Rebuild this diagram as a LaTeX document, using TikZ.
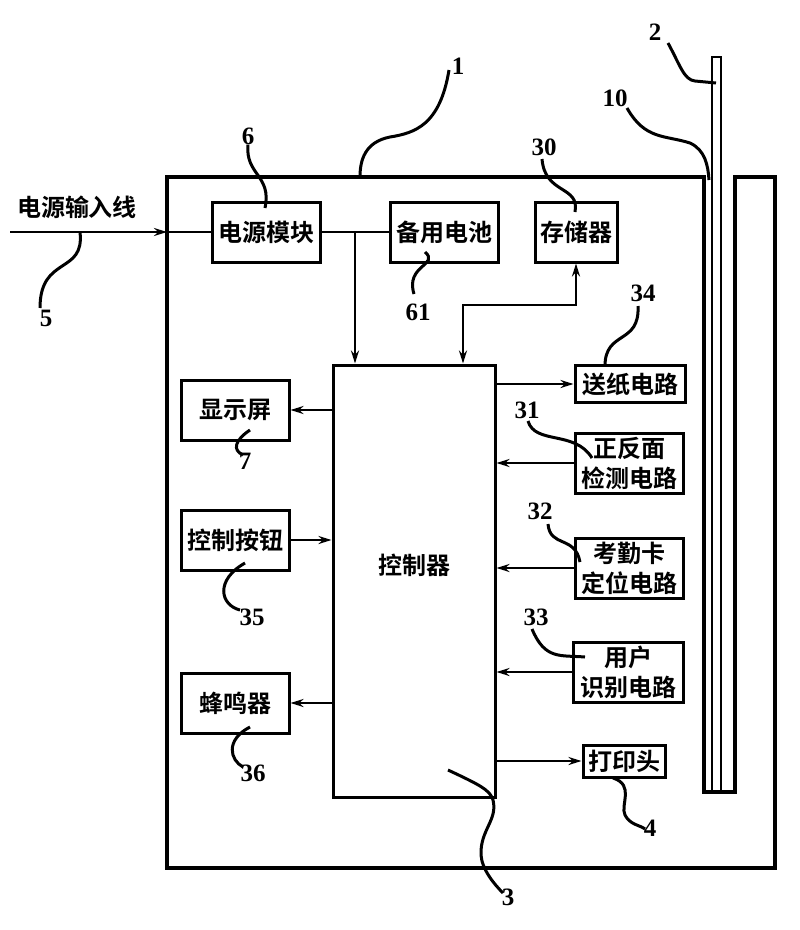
\documentclass[tikz,border=0pt]{standalone}
\usepackage{fontspec}
\newfontfamily\cjk{Noto Sans CJK SC Bold}
\newfontfamily\numfont{Liberation Serif}
\usetikzlibrary{arrows.meta,positioning,calc}

\begin{document}
\begin{tikzpicture}[
    x=1pt, y=-1pt,
    every node/.style={font=\cjk\fontsize{24}{30}\selectfont, inner sep=0pt},
    blk/.style={draw, line width=3pt, minimum width=108pt, minimum height=60pt, align=center},
    num/.style={font=\numfont\bfseries\fontsize{25}{25}\selectfont},
    lead/.style={line width=3pt},
    wire/.style={line width=2.6pt},
    arr/.style={wire, -{Stealth[length=13pt,width=8pt]}},
    darr/.style={wire, {Stealth[length=13pt,width=8pt]}-{Stealth[length=13pt,width=8pt]}}
]
\useasboundingbox (0,0) rectangle (800,930);

% housing with slot, and the card
\draw[line width=3.2pt] (167,177) -- (704,177) -- (704,792) -- (735,792) -- (735,177)
    -- (775,177) -- (775,868) -- (167,868) -- cycle;
\draw[line width=2.6pt] (712,57) rectangle (721,792);

% top row
\node[blk] (pm) at (266,232) {电源模块};
\node[blk] (bat) at (444,232) {备用电池};
\node[blk, minimum width=82pt] (mem) at (576,232) {存储器};
\node (intxt) at (77,207) {电源输入线};

% controller
\node[draw, line width=3pt, minimum width=162pt, minimum height=432pt] (ctl) at (414,581) {};
\node (ctltxt) at ($(ctl)+(0,-16)$) {控制器};

% left column
\node[blk] (disp) at (235,410) {显示屏};
\node[blk] (keys) at (235,540) {控制按钮};
\node[blk] (buz) at (235,703) {蜂鸣器};

% right column
\node[blk, minimum width=110pt, minimum height=37pt] (feed) at (630,384) {送纸电路};
\node[blk] (side) at (629,463) {正反面\\检测电路};
\node[blk] (card) at (629,568) {考勤卡\\定位电路};
\node[blk, minimum width=110pt] (user) at (628,672) {用户\\识别电路};
\node[blk, minimum width=82pt, minimum height=32pt] (head) at (624,761) {打印头};

% wiring
\coordinate (in) at (10,232);
\coordinate (wall) at (167,232);
\coordinate (tap) at (355,232);
\coordinate (bend) at (463,305);
\draw[arr] (in) -- (wall);
\draw[wire] (wall) -- (pm.west);
\draw[wire] (pm.east) -- (bat.west);
\draw[arr] (tap) -- (tap |- ctl.north);
\draw[darr] (mem.south) |- (bend) -- (bend |- ctl.north);

\draw[arr] (ctl.east |- feed) -- (feed.west);
\draw[arr] (side.west) -- (side.west -| ctl.east);
\draw[arr] (card.west) -- (card.west -| ctl.east);
\draw[arr] (user.west) -- (user.west -| ctl.east);
\draw[arr] (ctl.east |- head) -- (head.west);

\draw[arr] (ctl.west |- disp) -- (disp.east);
\draw[arr] (keys.east) -- (keys.east -| ctl.west);
\draw[arr] (ctl.west |- buz) -- (buz.east);

% reference numerals
\node[num] (l1) at (458,66) {1};
\node[num] (l2) at (655,32) {2};
\node[num] (l10) at (615,98) {10};
\node[num] (l6) at (248,136) {6};
\node[num] (l30) at (544,147) {30};
\node[num] (l5) at (46,318) {5};
\node[num] (l61) at (418,312) {61};
\node[num] (l34) at (643,293) {34};
\node[num] (l31) at (527,410) {31};
\node[num] (l32) at (540,511) {32};
\node[num] (l33) at (536,617) {33};
\node[num] (l4) at (650,828) {4};
\node[num] (l3) at (508,897) {3};
\node[num] (l7) at (245,461) {7};
\node[num] (l35) at (252,617) {35};
\node[num] (l36) at (253,773) {36};

% leader lines
\draw[lead] (449,70) .. controls (440,125) and (415,133) .. (390,137)
    .. controls (365,142) and (360,160) .. (360,177);
\draw[lead] (668,43) .. controls (680,65) and (684,80) .. (695,81) -- (716,83);
\draw[lead] (627,108) .. controls (645,140) and (665,135) .. (690,143)
    .. controls (705,150) and (708,165) .. (709,180);
\draw[lead] (l6.south) .. controls (245,175) and (272,175) .. (265,208);
\draw[lead] (542,159) .. controls (545,195) and (580,185) .. (575,212);
\draw[lead] (80,232) .. controls (85,275) and (40,255) .. (40,308);
\draw[lead] (425,252) .. controls (440,265) and (405,265) .. (414,294);
\draw[lead] (638,306) .. controls (640,345) and (605,330) .. (605,366);
\draw[lead] (528,421) .. controls (535,445) and (575,430) .. (592,458);
\draw[lead] (548,524) .. controls (550,548) and (575,535) .. (580,562);
\draw[lead] (532,629) .. controls (545,660) and (560,655) .. (585,657);
\draw[lead] (613,778) .. controls (635,785) and (620,805) .. (625,815)
    .. controls (630,825) and (640,825) .. (645,829);
\draw[lead] (448,770) .. controls (480,785) and (490,790) .. (493,800)
    .. controls (498,820) and (480,830) .. (481,855)
    .. controls (482,870) and (495,885) .. (503,893);
\draw[lead] (250,430) .. controls (235,440) and (232,450) .. (243,455);
\draw[lead] (245,563) .. controls (215,580) and (220,605) .. (240,610);
\draw[lead] (250,727) .. controls (225,740) and (230,760) .. (243,767);

\end{tikzpicture}
\end{document}
